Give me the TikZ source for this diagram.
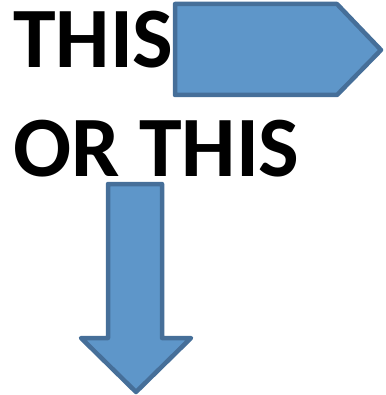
\documentclass[tikz,border=0pt]{standalone}
\usepackage{fontspec}
\setmainfont{Carlito}
\definecolor{arrfill}{RGB}{94,150,201}
\definecolor{arrline}{RGB}{70,111,153}
\begin{document}
\begin{tikzpicture}[x=1pt,y=-1pt,
  shapearrow/.style={fill=arrfill,draw=arrline,line width=4.5pt,line join=round},
  bigtext/.style={inner sep=0pt,anchor=base west,font=\fontsize{86}{86}\selectfont\bfseries}]
\useasboundingbox (0,0) rectangle (385,395);
\node[bigtext] (t1) at (13,68) {THIS};
\node[bigtext] (t2) at (13,176) {OR THIS};
\draw[shapearrow] (175,4) -- (337,4) -- (381,50) -- (337,95) -- (175,95) -- cycle;
\draw[shapearrow] (108,184) -- (162,184) -- (162,338) -- (191,338) -- (136,392) -- (81,338) -- (108,338) -- cycle;
\end{tikzpicture}
\end{document}
